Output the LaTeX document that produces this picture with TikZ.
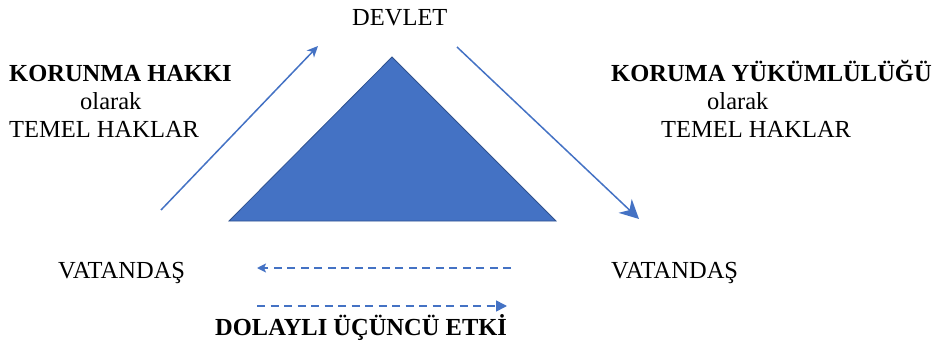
\documentclass[tikz,border=0pt]{standalone}
\usepackage{fontspec}
\setmainfont{Liberation Serif}
\usetikzlibrary{arrows.meta}
\definecolor{blu}{HTML}{4472C4}
\definecolor{bluedge}{HTML}{2F528F}
\begin{document}
\begin{tikzpicture}[x=1pt,y=-1pt,
  lbl/.style={font=\fontsize{24.5}{28}\selectfont, inner sep=0pt, anchor=base west},
  blbl/.style={lbl, font=\fontsize{24.5}{28}\selectfont\bfseries},
  solidarrow/.style={draw=blu, line width=1.5pt},
  dasharrow/.style={draw=blu, line width=1.6pt, dash pattern=on 8pt off 5.5pt},
  smalltip/.style={-{Stealth[length=11pt,width=10pt,inset=3pt]}},
  bigtip/.style={-{Stealth[length=19pt,width=19pt,inset=6pt]}},
  dashtipL/.style={-{Stealth[length=9pt,width=9pt,inset=2pt]}},
  dashtipR/.style={-{Triangle[length=11pt,width=11pt]}}]
\useasboundingbox (0,0) rectangle (934,342);
% triangle
\filldraw[fill=blu, draw=bluedge, line width=0.8pt] (392,57) -- (556,221) -- (229,221) -- cycle;
% texts
\node[lbl] (devlet) at (352,26) {DEVLET};
\node[blbl] (korunma) at (9,82) {KORUNMA HAKKI};
\node[lbl] (olarakL) at (80,110) {olarak};
\node[lbl] (temelL) at (9,138) {TEMEL HAKLAR};
\node[blbl] (koruma) at (611,82) {KORUMA YÜKÜMLÜLÜĞÜ};
\node[lbl] (olarakR) at (707,110) {olarak};
\node[lbl] (temelR) at (661,138) {TEMEL HAKLAR};
\node[lbl] (vatL) at (58,278) {VATANDAŞ};
\node[lbl] (vatR) at (611,278) {VATANDAŞ};
\node[blbl] (dolayli) at (215,335) {DOLAYLI ÜÇÜNCÜ ETKİ};
% arrow end points
\coordinate (a1s) at (161,210);
\coordinate (a1e) at (318,46);
\coordinate (a2s) at (457,47);
\coordinate (a2e) at (639,219);
\coordinate (d1s) at (511,268);
\coordinate (d1e) at (257,268);
\coordinate (d2s) at (257,306);
\coordinate (d2e) at (507,306);
\draw[solidarrow, smalltip] (a1s) -- (a1e);
\draw[solidarrow, bigtip] (a2s) -- (a2e);
\draw[dasharrow, dashtipL] (d1s) -- (d1e);
\draw[dasharrow, dashtipR] (d2s) -- (d2e);
\end{tikzpicture}
\end{document}
